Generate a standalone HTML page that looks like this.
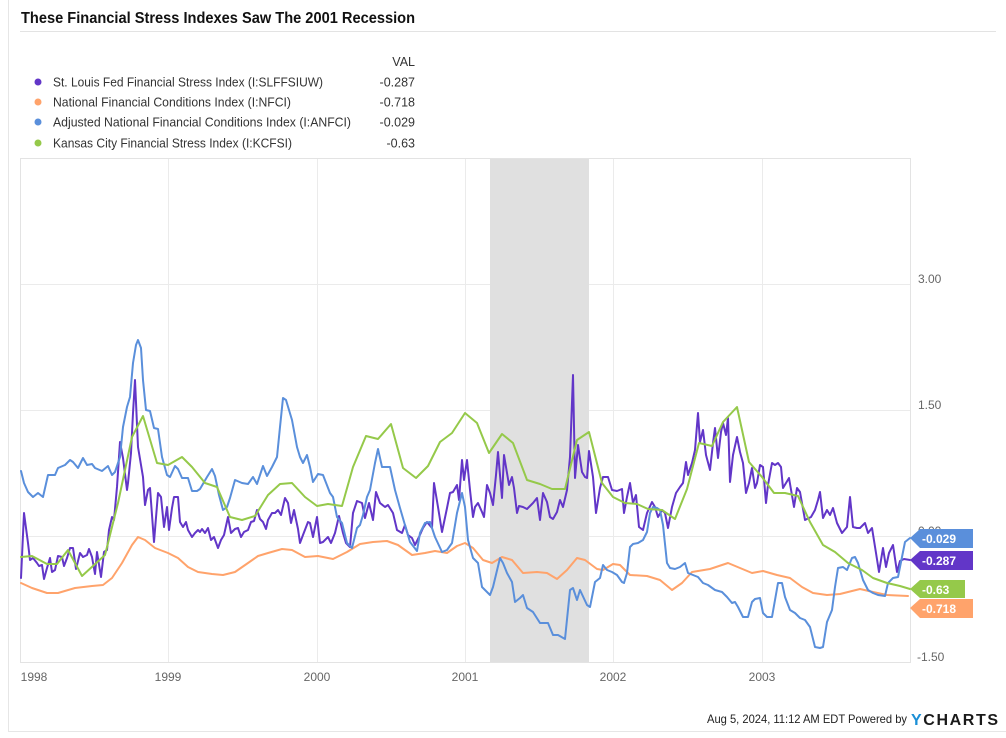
<!DOCTYPE html>
<html><head><meta charset="utf-8"><style>
html,body{margin:0;padding:0;background:#fff;}
svg{display:block;}
text{font-family:"Liberation Sans",sans-serif;}
</style></head><body>
<svg width="1006" height="738" viewBox="0 0 1006 738" xmlns="http://www.w3.org/2000/svg">
<rect x="0" y="0" width="1006" height="738" fill="#fff"/>
<!-- card border -->
<line x1="8.5" y1="0" x2="8.5" y2="731" stroke="#e6e6e6" stroke-width="1"/>
<line x1="8" y1="731.5" x2="1006" y2="731.5" stroke="#e6e6e6" stroke-width="1"/>
<!-- title -->
<text x="21" y="23" font-size="16" font-weight="bold" fill="#111" textLength="394" lengthAdjust="spacingAndGlyphs">These Financial Stress Indexes Saw The 2001 Recession</text>
<line x1="20" y1="31.5" x2="996" y2="31.5" stroke="#e3e3e3" stroke-width="1"/>
<!-- legend -->
<text x="415" y="66" font-size="12.5" fill="#333" text-anchor="end">VAL</text>
<circle cx="38" cy="82" r="3.5" fill="#6236c8"/>
<circle cx="38" cy="102" r="3.5" fill="#ffa36b"/>
<circle cx="38" cy="122" r="3.5" fill="#5a8fdb"/>
<circle cx="38" cy="143" r="3.5" fill="#95c94a"/>
<g font-size="13" fill="#333">
<text x="53" y="86.5" textLength="270" lengthAdjust="spacingAndGlyphs">St. Louis Fed Financial Stress Index (I:SLFFSIUW)</text>
<text x="53" y="106.5" textLength="238" lengthAdjust="spacingAndGlyphs">National Financial Conditions Index (I:NFCI)</text>
<text x="53" y="126.5" textLength="298" lengthAdjust="spacingAndGlyphs">Adjusted National Financial Conditions Index (I:ANFCI)</text>
<text x="53" y="147.5" textLength="239" lengthAdjust="spacingAndGlyphs">Kansas City Financial Stress Index (I:KCFSI)</text>
</g>
<g font-size="12.5" fill="#333" text-anchor="end">
<text x="415" y="86.5">-0.287</text>
<text x="415" y="106.5">-0.718</text>
<text x="415" y="126.5">-0.029</text>
<text x="415" y="147.5">-0.63</text>
</g>
<!-- gridlines -->
<g stroke="#ebebeb" stroke-width="1">
<line x1="168.5" y1="158" x2="168.5" y2="663"/>
<line x1="317.5" y1="158" x2="317.5" y2="663"/>
<line x1="465.5" y1="158" x2="465.5" y2="663"/>
<line x1="613.5" y1="158" x2="613.5" y2="663"/>
<line x1="762.5" y1="158" x2="762.5" y2="663"/>
<line x1="20" y1="284.5" x2="910" y2="284.5"/>
<line x1="20" y1="410.5" x2="910" y2="410.5"/>
<line x1="20" y1="536.5" x2="910" y2="536.5"/>
</g>
<!-- recession -->
<rect x="490" y="158" width="99" height="505" fill="#e0e0e0"/>
<!-- frame -->
<rect x="20.5" y="158.5" width="890" height="504" fill="none" stroke="#e3e3e3" stroke-width="1"/>
<!-- y labels -->
<g font-size="12" fill="#666">
<text x="918" y="283">3.00</text>
<text x="918" y="409">1.50</text>
<text x="918" y="535">0.00</text>
<text x="917" y="661">-1.50</text>
</g>
<!-- x labels -->
<g font-size="12" fill="#666" text-anchor="middle">
<text x="34" y="681">1998</text>
<text x="168" y="681">1999</text>
<text x="317" y="681">2000</text>
<text x="465" y="681">2001</text>
<text x="613" y="681">2002</text>
<text x="762" y="681">2003</text>
</g>
<!-- series -->
<g fill="none" stroke-width="2" stroke-linejoin="round" stroke-linecap="round">
<polyline stroke="#6236c8" points="21,578 24,513 28,543 30,560 33,558 37,563 39,566 42,565 44,579 47,568 50,558 52,572 55,570 58,556 62,557 64,566 67,558 70,548 73,548 76,569 80,553 83,557 87,555 89,549 92,557 95,574 97,552 101,577 104,552 107,550 109,530 112,517 114,520 117,487 120,442 123,458 127,490 128,483 131,453 133,413 135,380 138,447 141,465 143,477 145,505 148,490 150,488 154,542 158,493 161,497 164,527 167,507 169,530 172,508 174,497 178,497 180,522 183,527 186,522 188,530 192,537 195,533 198,530 200,532 202,529 205,533 208,528 211,540 214,537 218,548 221,540 224,535 228,517 231,533 235,529 238,528 241,537 244,532 248,530 251,522 254,521 257,510 260,519 263,522 266,529 268,520 272,513 275,513 278,510 281,515 285,498 288,503 291,523 294,510 298,529 300,543 303,535 308,522 310,523 313,537 317,517 320,543 323,542 328,537 331,543 335,533 339,516 343,533 346,543 350,547 353,513 357,501 362,503 365,518 369,503 373,520 376,492 380,503 385,507 388,505 393,513 397,530 402,533 405,525 408,535 412,538 415,545 419,537 423,528 427,522 432,528 434,483 438,507 442,532 447,508 450,493 453,492 457,485 459,500 462,460 464,480 467,460 470,490 473,517 475,507 478,503 482,512 484,517 487,485 490,493 493,505 496,475 498,452 502,498 504,455 507,473 509,485 512,477 514,488 517,513 519,506 523,507 527,509 530,506 533,503 537,498 540,520 543,493 547,502 550,517 553,519 557,512 560,500 563,507 567,490 570,457 573,375 575,478 578,445 582,472 585,477 587,478 589,451 593,477 596,513 600,488 603,477 608,477 612,490 617,491 622,489 624,513 627,497 630,483 633,503 636,495 639,527 643,530 647,513 652,502 655,507 658,517 662,510 665,513 668,528 672,507 676,493 680,487 683,483 686,462 688,475 692,463 695,450 698,413 700,442 703,430 706,455 710,470 713,443 715,428 718,458 721,432 723,423 726,435 728,418 730,482 733,455 737,437 740,452 743,463 746,493 749,483 752,468 755,488 757,483 760,465 763,467 766,503 768,485 772,463 775,465 778,463 781,467 783,488 786,483 789,478 794,507 797,488 800,492 805,520 811,517 815,510 818,500 820,492 823,518 827,510 830,515 833,508 837,523 842,533 847,527 850,497 853,527 857,528 860,528 865,523 868,533 872,528 876,553 879,572 883,548 886,567 889,553 893,545 897,572 900,561 904,559 910,560"/>
<polyline stroke="#ffa36b" points="21,583 32,588 47,593 58,593 75,588 92,586 103,585 112,578 122,563 132,545 138,537 145,540 155,548 168,553 178,558 188,567 198,572 212,574 223,575 235,572 248,563 258,556 268,553 282,549 292,550 305,557 318,556 333,559 347,552 360,544 373,542 387,541 398,545 412,555 425,553 435,551 447,553 457,546 465,543 473,548 483,560 492,563 502,557 512,560 523,573 537,572 547,573 557,579 567,570 577,558 585,560 597,569 603,570 613,564 620,565 630,575 647,576 660,580 672,590 682,583 692,572 710,569 728,563 740,568 752,573 763,571 777,575 790,578 802,587 813,593 827,595 840,594 860,589 873,592 887,595 908,596"/>
<polyline stroke="#5a8fdb" points="21,471 24,483 28,492 33,497 38,493 43,497 48,475 55,475 58,468 65,465 70,460 73,462 78,468 83,458 87,465 92,464 95,468 102,471 108,466 112,475 115,472 120,457 123,427 127,407 130,397 133,363 136,345 138,340 141,348 143,380 146,410 150,411 154,428 158,429 162,457 167,475 170,477 175,466 178,469 182,478 188,478 192,491 197,491 200,489 207,477 212,469 215,476 219,495 223,510 227,507 230,498 235,480 242,483 248,484 253,477 257,484 263,466 267,476 272,467 277,457 280,427 283,398 286,400 292,420 297,447 300,457 303,463 307,455 310,467 313,482 318,474 323,475 330,493 333,497 337,517 342,523 347,543 352,548 357,528 360,525 363,515 367,497 370,490 375,463 378,449 382,467 390,467 395,490 400,508 407,532 410,542 417,551 420,533 425,523 430,522 435,537 442,552 447,550 452,543 457,513 462,493 465,507 468,540 473,558 478,563 482,587 487,592 490,595 493,587 500,558 503,563 507,573 512,582 515,602 520,598 523,595 527,608 533,612 540,623 548,623 553,635 558,635 565,639 570,590 573,588 577,600 580,590 587,605 590,607 595,582 600,578 603,565 607,570 612,572 617,575 622,582 624,583 627,573 630,547 633,544 638,543 643,540 647,532 650,513 653,507 657,508 660,510 663,525 667,563 670,568 675,569 680,567 685,563 688,573 693,575 698,577 703,583 708,585 715,590 722,592 727,597 732,603 735,602 738,607 743,617 748,617 752,602 755,599 760,598 763,613 767,617 772,617 775,600 778,583 782,583 785,597 790,610 795,613 800,618 805,620 810,627 815,647 820,648 823,647 827,622 832,610 835,587 838,568 843,567 847,570 852,558 855,557 858,563 863,580 868,590 873,593 878,595 885,596 888,583 893,578 898,577 902,557 905,542 910,538"/>
<polyline stroke="#95c94a" points="21,557 32,556 47,564 57,564 68,550 82,576 105,555 118,503 132,437 143,416 157,463 168,465 182,457 192,467 205,483 217,487 230,517 242,520 255,516 268,495 280,484 292,483 305,497 317,506 328,504 342,506 353,467 366,436 378,439 391,424 403,468 416,478 428,466 440,442 452,433 465,413 477,423 489,453 502,434 513,443 527,480 540,484 552,489 565,489 577,440 589,432 602,483 613,497 625,503 637,504 648,509 662,510 675,519 687,489 699,443 712,446 723,422 737,407 749,462 762,477 774,493 785,493 798,496 810,522 823,545 835,552 848,563 862,570 873,578 887,583 900,586 910,589"/>
</g>
<!-- end tags -->
<polygon points="910,538 920,529 973,529 973,548 920,548" fill="#5a8fdb"/>
<polygon points="910,560 920,551 973,551 973,570 920,570" fill="#6236c8"/>
<polygon points="910,589 920,580 965,580 965,598 920,598" fill="#95c94a"/>
<polygon points="910,608 920,599 973,599 973,618 920,618" fill="#ffa36b"/>
<g font-size="12" font-weight="bold" fill="#fff">
<text x="922" y="543">-0.029</text>
<text x="922" y="565">-0.287</text>
<text x="922" y="594">-0.63</text>
<text x="922" y="613">-0.718</text>
</g>
<!-- footer -->
<text x="707" y="723" font-size="12" fill="#222" textLength="200" lengthAdjust="spacingAndGlyphs">Aug 5, 2024, 11:12 AM EDT Powered by</text>
<text x="911" y="725" font-size="16" font-weight="bold" fill="#1a1a1a" textLength="87" lengthAdjust="spacing"><tspan fill="#1b8fd6">Y</tspan>CHARTS</text>
</svg>
</body></html>
